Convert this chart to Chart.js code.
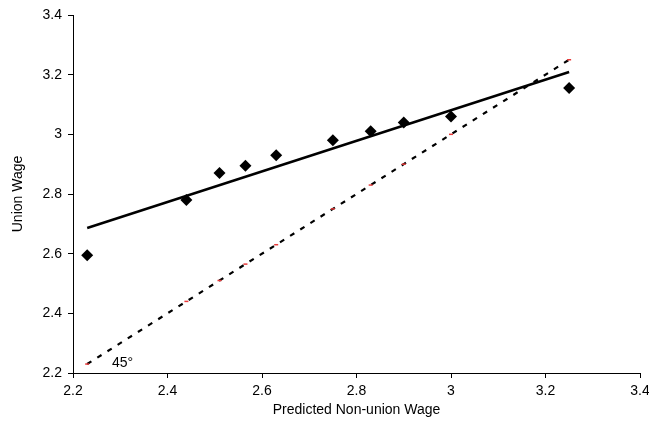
<!DOCTYPE html>
<html>
<head>
<meta charset="utf-8">
<script src="https://cdn.jsdelivr.net/npm/chart.js@4/dist/chart.umd.min.js"></script>
<style>
  html, body { margin: 0; padding: 0; background: #fff; }
  #wrap { width: 649px; height: 427px; position: relative; }
</style>
</head>
<body>
<div id="wrap"><canvas id="c" width="649" height="427"></canvas></div>
<script>
// Data
const predictedNonUnion = [2.23, 2.44, 2.51, 2.565, 2.63, 2.75, 2.83, 2.90, 3.00, 3.25];
const unionWage        = [2.595, 2.78, 2.87, 2.895, 2.93, 2.98, 3.01, 3.04, 3.06, 3.155];
const fitX = [2.23, 3.25];
const fitY = [2.686, 3.209];
const xTickLabels = ['2.2', '2.4', '2.6', '2.8', '3', '3.2', '3.4'];
const yTickLabels = ['2.2', '2.4', '2.6', '2.8', '3', '3.2', '3.4'];
const label45 = '45°';

const font = { family: '"Liberation Sans", Arial, sans-serif', size: 14 };

const label45Plugin = {
  id: 'label45',
  afterDatasetsDraw(chart) {
    const { ctx, scales } = chart;
    const px = scales.x.getPixelForValue(2.2) + 39;
    const py = scales.y.getPixelForValue(2.2) - 10;
    ctx.save();
    ctx.font = '14px "Liberation Sans", Arial, sans-serif';
    ctx.fillStyle = '#000';
    ctx.textBaseline = 'middle';
    ctx.textAlign = 'left';
    ctx.fillText(label45, px, py);
    ctx.restore();
  }
};

new Chart(document.getElementById('c'), {
  type: 'scatter',
  data: {
    datasets: [
      {
        label: 'Union Wage',
        data: predictedNonUnion.map((x, i) => ({ x, y: unionWage[i] })),
        pointStyle: 'rectRot',
        pointRadius: 6,
        pointHoverRadius: 6,
        backgroundColor: '#000',
        borderColor: '#000',
        borderWidth: 0,
        showLine: false,
        order: 1
      },
      {
        label: 'Fit',
        data: fitX.map((x, i) => ({ x, y: fitY[i] })),
        showLine: true,
        borderColor: '#000',
        borderWidth: 2.5,
        pointRadius: 0,
        fill: false,
        order: 2
      },
      {
        label: '45 degree',
        data: predictedNonUnion.map(x => ({ x, y: x })),
        showLine: true,
        borderColor: '#000',
        borderWidth: 2.2,
        borderDash: [5, 7],
        pointStyle: 'line',
        pointRadius: 2,
        pointBorderColor: '#e83a3a',
        pointBackgroundColor: '#e83a3a',
        pointBorderWidth: 1.5,
        fill: false,
        order: 3
      }
    ]
  },
  options: {
    responsive: false,
    animation: false,
    devicePixelRatio: 1,
    layout: { padding: { left: 0, right: 9, top: 15, bottom: 0 } },
    plugins: {
      legend: { display: false },
      tooltip: { enabled: false }
    },
    scales: {
      x: {
        type: 'linear',
        min: 2.2, max: 3.4,
        afterFit(scale) { scale.height = 54; scale.paddingRight = 0; scale.paddingLeft = 0; },
        border: { display: true, color: '#000', width: 1 },
        grid: { display: true, drawOnChartArea: false, drawTicks: true, tickLength: 5, color: '#000' },
        ticks: {
          stepSize: 0.2,
          color: '#000',
          font,
          padding: 5,
          maxRotation: 0,
          callback: (v, i) => xTickLabels[i]
        },
        title: { display: true, text: 'Predicted Non-union Wage', color: '#000', font, padding: { top: 4, bottom: 8 } }
      },
      y: {
        type: 'linear',
        min: 2.2, max: 3.4,
        afterFit(scale) { scale.width = 73; scale.paddingTop = 0; scale.paddingBottom = 0; },
        border: { display: true, color: '#000', width: 1 },
        grid: { display: true, drawOnChartArea: false, drawTicks: true, tickLength: 5, color: '#000' },
        ticks: {
          stepSize: 0.2,
          color: '#000',
          font,
          padding: 6,
          callback: (v, i) => yTickLabels[i]
        },
        title: { display: true, text: 'Union Wage', color: '#000', font, padding: { top: 10, bottom: 4 } }
      }
    }
  },
  plugins: [label45Plugin]
});
</script>
</body>
</html>
